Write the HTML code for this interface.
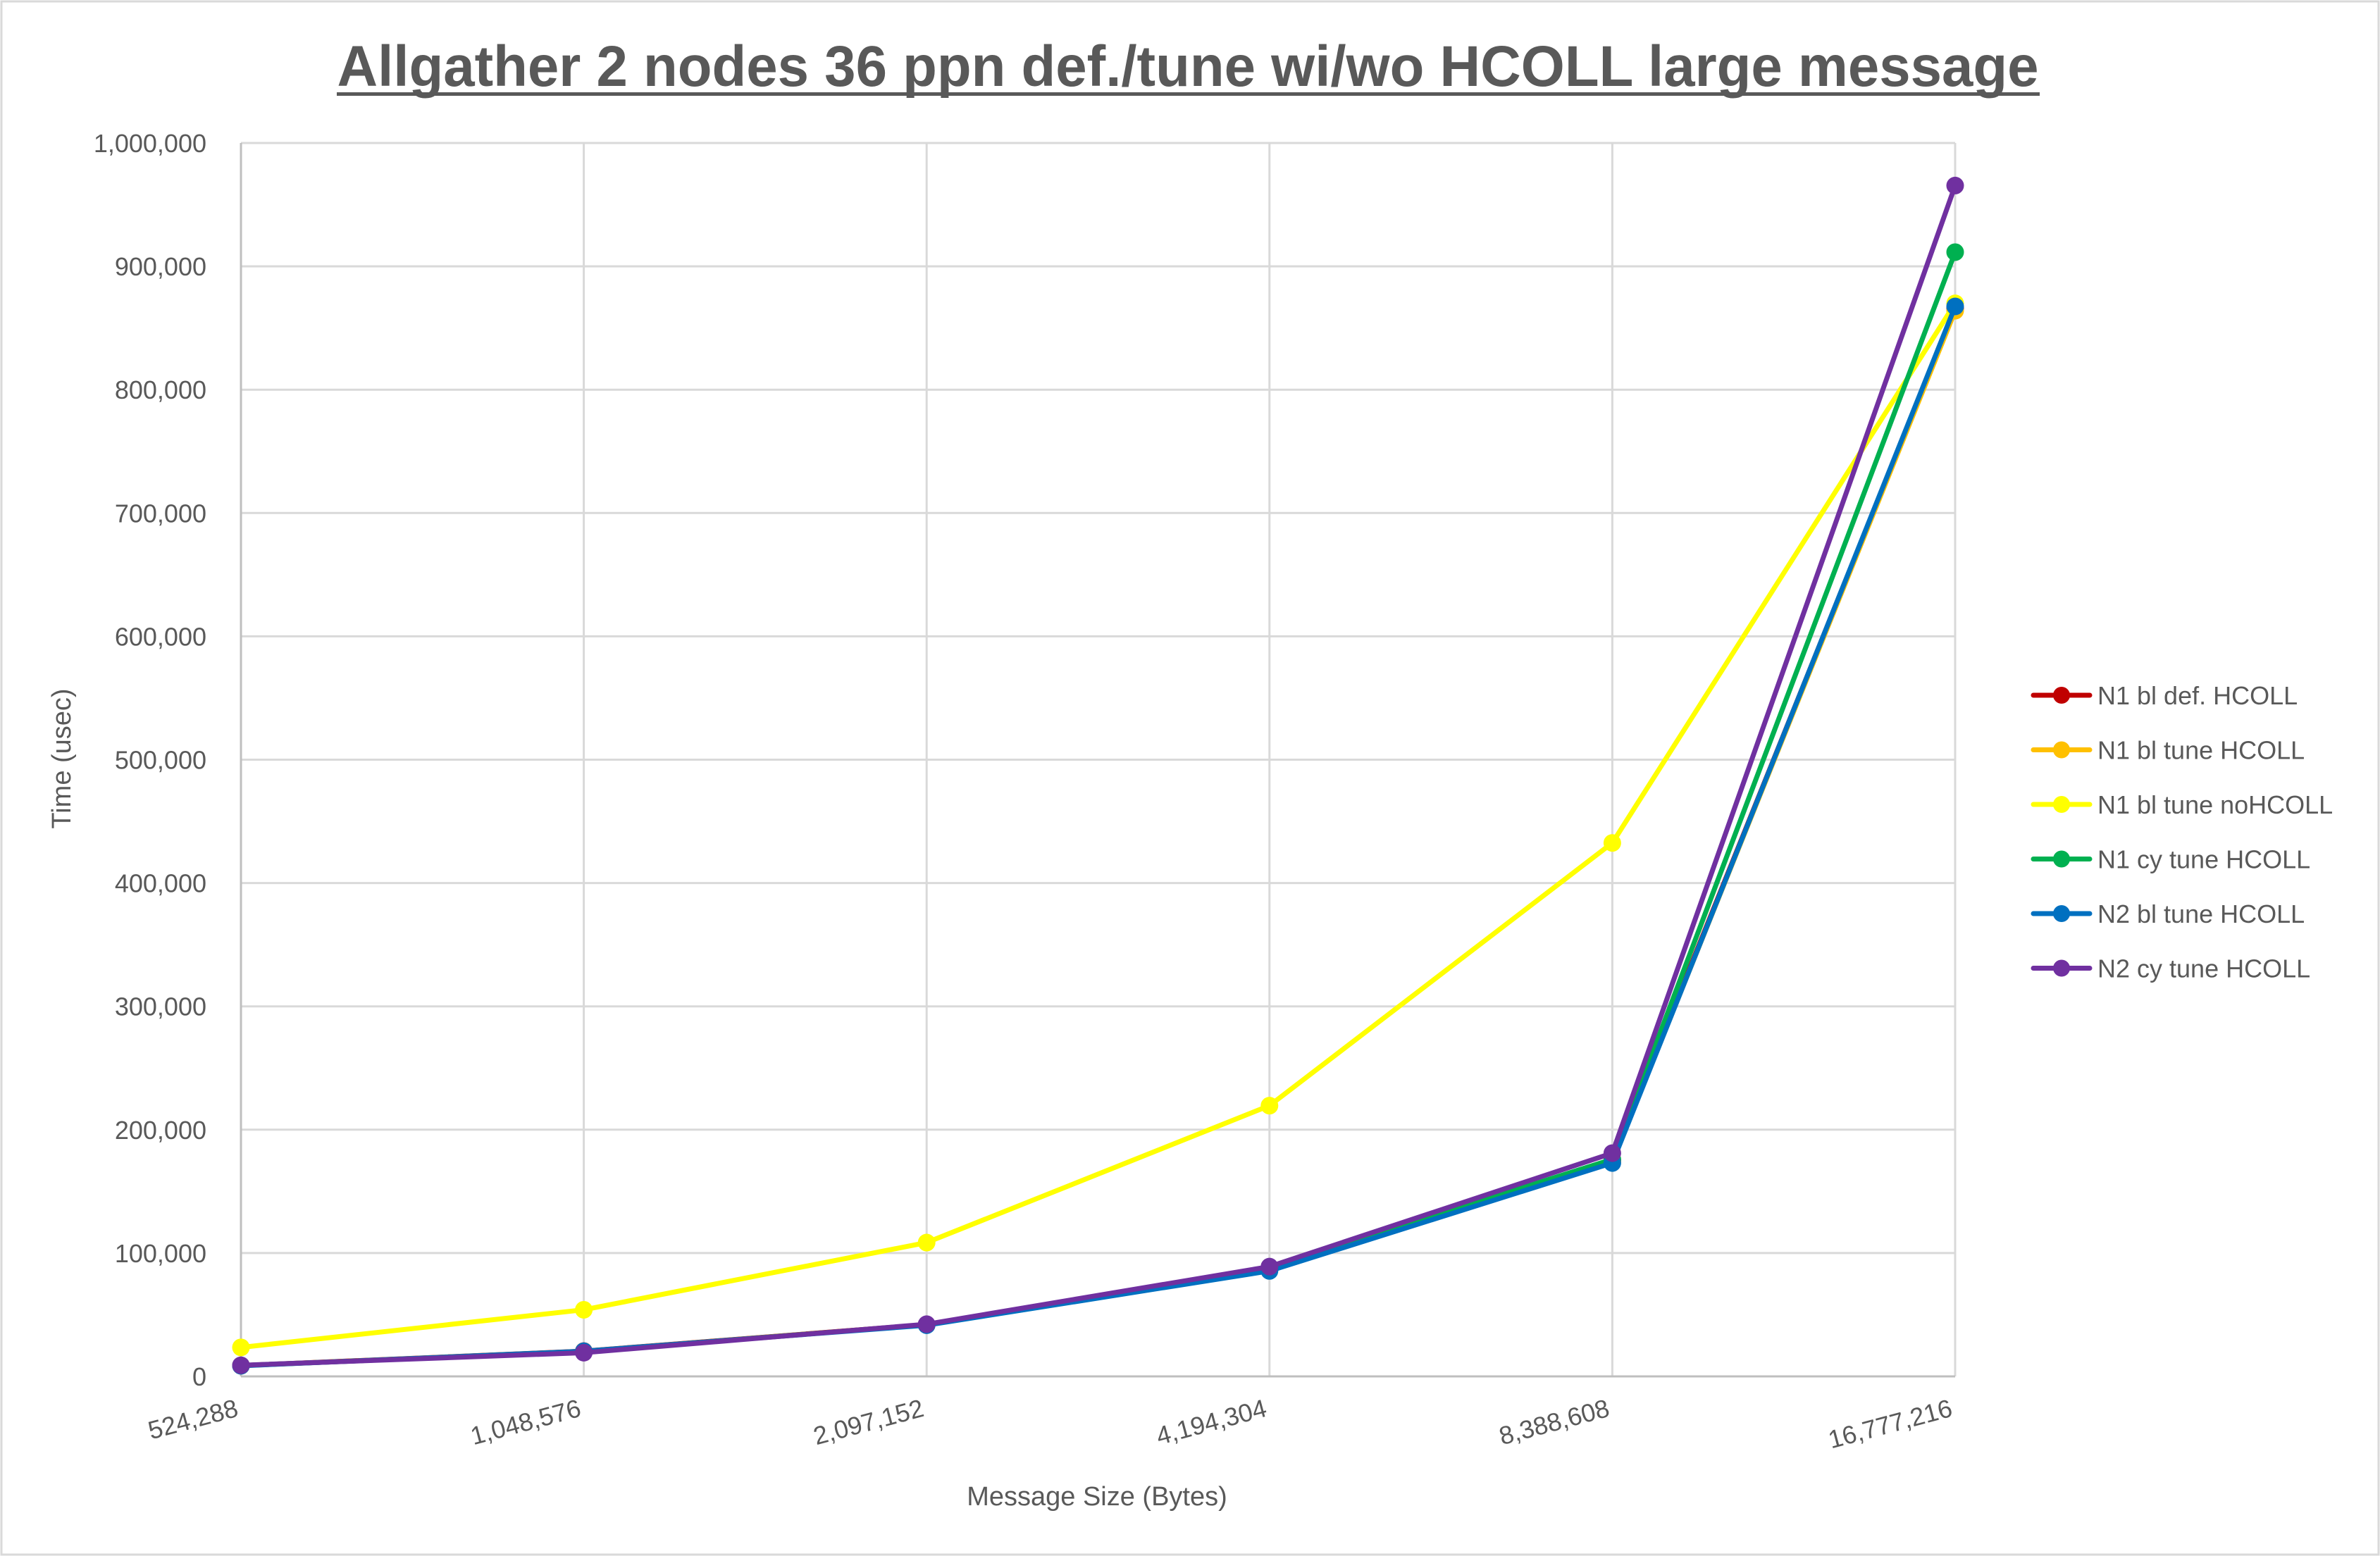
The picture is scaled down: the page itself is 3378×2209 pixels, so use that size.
<!DOCTYPE html>
<html><head><meta charset="utf-8"><style>
html,body{margin:0;padding:0;background:#fff}
svg{display:block;font-family:"Liberation Sans",sans-serif}
</style></head><body>
<svg id="chart" width="3378" height="2209" viewBox="0 0 3378 2209" xmlns="http://www.w3.org/2000/svg">
<rect x="2" y="2" width="3374" height="2205" fill="#fff" stroke="#D9D9D9" stroke-width="3"/>
<text x="1686" y="122" text-anchor="middle" font-size="82" font-weight="bold" fill="#595959" textLength="2415" lengthAdjust="spacingAndGlyphs">Allgather 2 nodes 36 ppn def./tune wi/wo HCOLL large message</text>
<rect x="478" y="131" width="2417" height="5" fill="#595959"/>
<g id="grid"></g>
<g id="series"></g>
<g id="legend"></g>
<text transform="translate(100,1077) rotate(-90)" text-anchor="middle" font-size="38" fill="#595959">Time (usec)</text>
<text x="1557" y="2137" text-anchor="middle" font-size="38" fill="#595959">Message Size (Bytes)</text>
</svg>
<script>
const categories = ["524,288","1,048,576","2,097,152","4,194,304","8,388,608","16,777,216"];
const yTicks = [0,100000,200000,300000,400000,500000,600000,700000,800000,900000,1000000];
const seriesNames = ["N1 bl def. HCOLL","N1 bl tune HCOLL","N1 bl tune noHCOLL","N1 cy tune HCOLL","N2 bl tune HCOLL","N2 cy tune HCOLL"];
const seriesColors = ["#C00000","#FFC000","#FFFF00","#00B050","#0070C0","#7030A0"];
const n1BlDef = [8800,20500,42000,87000,175000,866000];
const n1BlTune = [8700,20300,41800,86500,174000,864000];
const n1BlTuneNo = [23500,54000,108500,219500,432500,870000];
const n1CyTune = [8800,20000,42000,88000,176000,911500];
const n2BlTune = [8600,20400,41500,85500,173000,867500];
const n2CyTune = [9000,19200,42300,89000,181000,965500];
const allSeries = [n1BlDef,n1BlTune,n1BlTuneNo,n1CyTune,n2BlTune,n2CyTune];

const L=342,R=2775,T=203,B=1954,YMAX=1000000;
const NS="http://www.w3.org/2000/svg";
function xPos(i){return L+(R-L)*i/(categories.length-1);}
function yPos(v){return B-(B-T)*v/YMAX;}
function mk(tag,attrs,parent){const e=document.createElementNS(NS,tag);for(const k in attrs)e.setAttribute(k,attrs[k]);parent.appendChild(e);return e;}
const grid=document.getElementById('grid');
yTicks.forEach(v=>{
  if(v>0){const g=mk('line',{x1:L,x2:R,y1:yPos(v),y2:yPos(v),stroke:'#D9D9D9','stroke-width':3},grid);
  
  }
  const t=mk('text',{x:293,y:yPos(v)+13,'text-anchor':'end','font-size':36,fill:'#595959'},grid);
  
  
  t.textContent=v.toLocaleString('en-US');
});
categories.forEach((c,i)=>{
  if(i>0){const g=mk('line',{x1:xPos(i),x2:xPos(i),y1:T,y2:B,stroke:'#D9D9D9','stroke-width':3},grid);
  
  }
  const t=mk('text',{x:0,y:0,'text-anchor':'end','font-size':36,fill:'#595959',transform:`translate(${xPos(i)-2},${B+56}) rotate(-15)`},grid);
  
  
  t.textContent=c;
});
const ax=mk('line',{x1:L,x2:R,y1:B,y2:B,stroke:'#BFBFBF','stroke-width':3},grid);


const ay=mk('line',{x1:L,x2:L,y1:T,y2:B,stroke:'#BFBFBF','stroke-width':3},grid);



const sg=document.getElementById('series');
allSeries.forEach((vals,s)=>{
  const g=mk('g',{},sg);
  
  
  const p=mk('polyline',{points:vals.map((v,i)=>xPos(i)+','+yPos(v)).join(' '),fill:'none',stroke:seriesColors[s],'stroke-width':7,'stroke-linejoin':'round','stroke-linecap':'round'},g);
  
  
  vals.forEach((v,i)=>{
    const c=mk('circle',{cx:xPos(i),cy:yPos(v),r:12.5,fill:seriesColors[s]},g);
    
    
  });
});
const lg=document.getElementById('legend');
seriesNames.forEach((n,s)=>{
  const y=987+s*77.5;
  const g=mk('g',{},lg);
  
  
  mk('line',{x1:2886,x2:2966,y1:y,y2:y,stroke:seriesColors[s],'stroke-width':7,'stroke-linecap':'round'},g);
  mk('circle',{cx:2926,cy:y,r:12,fill:seriesColors[s]},g);
  const t=mk('text',{x:2977,y:y+13,'font-size':36,fill:'#595959'},g);
  t.textContent=n;
});
</script>
</body></html>
